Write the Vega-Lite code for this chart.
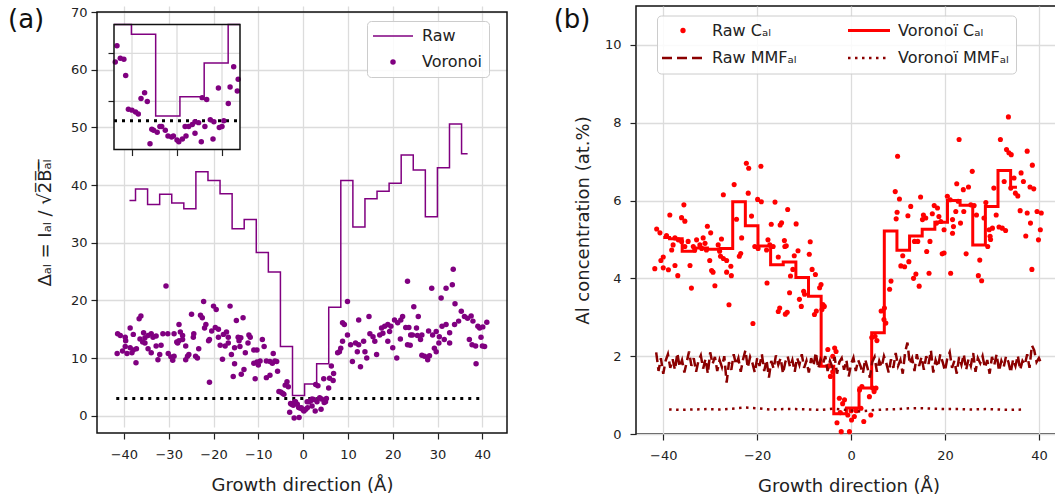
{
  "$schema": "https://vega.github.io/schema/vega-lite/v6.json",
  "padding": {"left": 8, "top": 5, "right": -5, "bottom": 0},
  "spacing": 44,
  "resolve": {"scale": {"color": "independent"}, "legend": {"color": "independent"}},
  "config": {
    "font": "DejaVu Sans",
    "view": {"stroke": "#111111", "strokeWidth": 1.5},
    "axis": {
      "labelFont": "DejaVu Sans", "labelFontSize": 13, "labelColor": "#222222",
      "titleFont": "DejaVu Sans", "titleFontSize": 18, "titleFontWeight": "normal", "titleColor": "#222222",
      "gridColor": "#dcdcdc", "gridWidth": 1.3, "domain": false,
      "tickColor": "#222222", "tickSize": 6, "tickWidth": 1.2
    },
    "axisX": {"labelPadding": 9, "titlePadding": 15},
    "axisY": {"labelPadding": 5, "titlePadding": 16},
    "legend": {"labelFont": "DejaVu Sans", "labelFontSize": 16, "labelColor": "#222222"}
  },
  "datasets": {
    "a_raw": [
      {"x": -38.75, "d": 37.3}, {"x": -36.06, "d": 39.3}, {"x": -33.36, "d": 36.6}, {"x": -30.67, "d": 38.4},
      {"x": -27.97, "d": 36.9}, {"x": -25.28, "d": 35.9}, {"x": -22.58, "d": 42.3}, {"x": -19.89, "d": 40.8},
      {"x": -17.19, "d": 38.5}, {"x": -14.5, "d": 32.4}, {"x": -11.8, "d": 34.0}, {"x": -9.11, "d": 28.3},
      {"x": -6.41, "d": 24.9}, {"x": -3.72, "d": 12.0}, {"x": -1.02, "d": 3.5}, {"x": 1.67, "d": 5.5},
      {"x": 4.37, "d": 9.0}, {"x": 7.06, "d": 18.8}, {"x": 9.76, "d": 40.8}, {"x": 12.45, "d": 32.7},
      {"x": 15.15, "d": 37.6}, {"x": 17.84, "d": 38.9}, {"x": 20.54, "d": 40.3}, {"x": 23.23, "d": 45.2},
      {"x": 25.93, "d": 42.6}, {"x": 28.62, "d": 34.5}, {"x": 31.32, "d": 43.0}, {"x": 34.01, "d": 50.6},
      {"x": 36.71, "d": 45.4}
    ],
    "a_thr": [{"x": -41.7, "d": 3}, {"x": 39.8, "d": 3}],
    "a_vor": [
      {"x": -30.6, "d": 22.5}, {"x": -22.2, "d": 19.8}, {"x": -20.0, "d": 19.0}, {"x": -19.4, "d": 18.4},
      {"x": -16.3, "d": 19.0}, {"x": -24.9, "d": 17.6}, {"x": -22.9, "d": 17.4}, {"x": -22.5, "d": 17.0},
      {"x": -36.2, "d": 17.3}, {"x": -36.6, "d": 16.8}, {"x": -14.9, "d": 16.5}, {"x": -27.7, "d": 15.8},
      {"x": -21.7, "d": 15.8}, {"x": -22.0, "d": 15.2}, {"x": -19.6, "d": 15.3}, {"x": -18.9, "d": 15.0},
      {"x": -20.4, "d": 14.7}, {"x": -38.6, "d": 15.2}, {"x": -41.4, "d": 14.2}, {"x": -40.8, "d": 13.9},
      {"x": -39.7, "d": 13.6}, {"x": -37.9, "d": 14.1}, {"x": -35.6, "d": 14.4}, {"x": -34.6, "d": 13.9},
      {"x": -33.9, "d": 14.2}, {"x": -33.5, "d": 13.6}, {"x": -32.8, "d": 13.8}, {"x": -35.3, "d": 13.5},
      {"x": -31.3, "d": 14.2}, {"x": -30.2, "d": 14.2}, {"x": -28.8, "d": 14.2}, {"x": -27.4, "d": 14.5},
      {"x": -26.9, "d": 13.9}, {"x": -24.4, "d": 14.2}, {"x": -24.5, "d": 13.6}, {"x": -21.1, "d": 13.0},
      {"x": -18.9, "d": 13.6}, {"x": -17.8, "d": 14.1}, {"x": -17.1, "d": 14.5}, {"x": -16.7, "d": 13.6},
      {"x": -14.5, "d": 13.6}, {"x": -14.3, "d": 13.0}, {"x": -39.6, "d": 13.0}, {"x": -36.4, "d": 13.3},
      {"x": -35.8, "d": 12.8}, {"x": -35.3, "d": 12.6}, {"x": -28.2, "d": 12.8}, {"x": -27.7, "d": 13.0},
      {"x": -26.9, "d": 13.2}, {"x": -26.2, "d": 12.1}, {"x": -28.0, "d": 12.6}, {"x": -23.3, "d": 11.6},
      {"x": -20.9, "d": 13.2}, {"x": -18.5, "d": 12.2}, {"x": -17.4, "d": 12.1}, {"x": -16.7, "d": 12.6},
      {"x": -15.3, "d": 11.8}, {"x": -39.7, "d": 12.0}, {"x": -40.3, "d": 11.2}, {"x": -38.6, "d": 11.8},
      {"x": -37.9, "d": 11.4}, {"x": -37.2, "d": 11.6}, {"x": -39.3, "d": 10.8}, {"x": -38.2, "d": 10.9},
      {"x": -41.5, "d": 10.8}, {"x": -34.6, "d": 11.6}, {"x": -33.9, "d": 10.9}, {"x": -32.8, "d": 12.1},
      {"x": -31.7, "d": 12.2}, {"x": -32.0, "d": 10.6}, {"x": -32.4, "d": 9.7}, {"x": -30.1, "d": 10.8},
      {"x": -29.5, "d": 10.2}, {"x": -29.1, "d": 9.6}, {"x": -28.8, "d": 10.3}, {"x": -26.2, "d": 9.7},
      {"x": -25.5, "d": 10.6}, {"x": -24.0, "d": 10.3}, {"x": -23.6, "d": 10.0}, {"x": -25.8, "d": 10.3},
      {"x": -37.3, "d": 9.2}, {"x": -18.0, "d": 9.8}, {"x": -16.0, "d": 10.6}, {"x": -15.3, "d": 9.0},
      {"x": -15.6, "d": 6.8}, {"x": -13.8, "d": 7.2}, {"x": -20.9, "d": 5.8},
      {"x": -13.4, "d": 17.0}, {"x": -12.1, "d": 14.0}, {"x": -11.8, "d": 13.6}, {"x": -12.3, "d": 12.6},
      {"x": -13.9, "d": 13.5}, {"x": -14.1, "d": 12.0}, {"x": -9.1, "d": 13.2}, {"x": -8.7, "d": 12.0},
      {"x": -11.0, "d": 11.4}, {"x": -10.3, "d": 11.4}, {"x": -12.9, "d": 10.9}, {"x": -7.4, "d": 9.4},
      {"x": -8.2, "d": 9.5}, {"x": -9.6, "d": 9.5}, {"x": -10.3, "d": 9.3}, {"x": -11.0, "d": 9.1},
      {"x": -10.0, "d": 8.8}, {"x": -13.2, "d": 8.0}, {"x": -7.4, "d": 7.0}, {"x": -8.2, "d": 6.6},
      {"x": -10.7, "d": 6.4},
      {"x": -6.86, "d": 9.1}, {"x": -6.67, "d": 10.8}, {"x": -6.3, "d": 9.5}, {"x": -5.9, "d": 9.4},
      {"x": -5.7, "d": 7.7}, {"x": -5.4, "d": 4.2}, {"x": -5.0, "d": 4.1}, {"x": -4.6, "d": 3.9},
      {"x": -4.3, "d": 3.7}, {"x": -4.0, "d": 5.3}, {"x": -3.6, "d": 5.9}, {"x": -3.3, "d": 5.0},
      {"x": -3.0, "d": 0.6}, {"x": -2.6, "d": 2.0}, {"x": -2.2, "d": 1.8}, {"x": -2.8, "d": 2.1},
      {"x": -1.7, "d": 2.4}, {"x": -1.3, "d": 2.0}, {"x": -1.0, "d": 1.4}, {"x": -0.6, "d": 1.3},
      {"x": -0.4, "d": 1.4}, {"x": 0.0, "d": 1.0}, {"x": 0.2, "d": 0.8}, {"x": 0.6, "d": 1.1},
      {"x": 1.0, "d": 1.4}, {"x": 0.9, "d": 2.4}, {"x": 1.3, "d": 2.4}, {"x": 1.7, "d": 2.6},
      {"x": 2.0, "d": 1.7}, {"x": 2.0, "d": 2.9}, {"x": 2.7, "d": 0.8}, {"x": 2.8, "d": 5.4},
      {"x": 3.3, "d": 5.2}, {"x": 3.7, "d": 3.1}, {"x": 4.0, "d": 1.1}, {"x": 4.1, "d": 2.9},
      {"x": 4.6, "d": 6.4}, {"x": 4.7, "d": 2.3}, {"x": 5.0, "d": 2.4}, {"x": 5.2, "d": 3.0},
      {"x": 5.7, "d": 4.8}, {"x": 5.9, "d": 6.5}, {"x": 6.3, "d": 8.6}, {"x": 6.7, "d": 6.1},
      {"x": 6.8, "d": 7.3}, {"x": -2.0, "d": -0.4}, {"x": -0.9, "d": -0.3}, {"x": -1.9, "d": 2.4},
      {"x": 2.4, "d": 2.8}, {"x": 3.1, "d": 2.4},
      {"x": 8.1, "d": 11.1}, {"x": 8.4, "d": 11.7}, {"x": 7.7, "d": 10.9}, {"x": 8.8, "d": 12.9},
      {"x": 9.2, "d": 15.8}, {"x": 8.8, "d": 16.1}, {"x": 9.9, "d": 14.0}, {"x": 10.6, "d": 12.3},
      {"x": 9.9, "d": 19.8}, {"x": 12.4, "d": 16.6}, {"x": 11.0, "d": 9.4}, {"x": 12.8, "d": 8.5},
      {"x": 11.7, "d": 12.6}, {"x": 12.4, "d": 12.3}, {"x": 12.1, "d": 11.1},
      {"x": 14.7, "d": 17.2}, {"x": 14.9, "d": 14.2}, {"x": 15.6, "d": 13.7}, {"x": 13.5, "d": 12.9},
      {"x": 16.0, "d": 12.9}, {"x": 13.8, "d": 11.1}, {"x": 14.2, "d": 10.0}, {"x": 16.4, "d": 10.6},
      {"x": 17.5, "d": 15.2}, {"x": 18.2, "d": 15.5}, {"x": 18.9, "d": 15.8}, {"x": 19.6, "d": 15.5},
      {"x": 20.4, "d": 16.6}, {"x": 21.1, "d": 16.1}, {"x": 21.8, "d": 16.6}, {"x": 22.2, "d": 17.2},
      {"x": 17.8, "d": 14.3}, {"x": 17.1, "d": 14.0}, {"x": 19.3, "d": 14.6}, {"x": 18.9, "d": 12.9},
      {"x": 20.0, "d": 11.8}, {"x": 20.9, "d": 10.0}, {"x": 21.7, "d": 13.3}, {"x": 23.3, "d": 23.3},
      {"x": 24.7, "d": 18.9}, {"x": 25.7, "d": 17.2}, {"x": 22.9, "d": 15.3}, {"x": 23.6, "d": 15.3},
      {"x": 24.0, "d": 14.0}, {"x": 25.3, "d": 15.2}, {"x": 24.4, "d": 14.0}, {"x": 25.5, "d": 13.9},
      {"x": 26.2, "d": 13.2}, {"x": 26.5, "d": 14.0}, {"x": 28.0, "d": 14.7}, {"x": 23.3, "d": 12.3},
      {"x": 23.9, "d": 12.2}, {"x": 26.5, "d": 10.5},
      {"x": 33.5, "d": 25.4}, {"x": 33.3, "d": 22.7}, {"x": 31.9, "d": 22.1}, {"x": 30.8, "d": 20.4},
      {"x": 28.7, "d": 22.1}, {"x": 33.9, "d": 19.4}, {"x": 35.3, "d": 18.1}, {"x": 36.0, "d": 17.2},
      {"x": 36.7, "d": 16.9}, {"x": 37.5, "d": 17.3}, {"x": 34.7, "d": 16.4}, {"x": 33.8, "d": 15.8},
      {"x": 37.9, "d": 16.4}, {"x": 39.0, "d": 15.5}, {"x": 39.4, "d": 15.2}, {"x": 40.1, "d": 15.4},
      {"x": 41.0, "d": 16.2}, {"x": 37.1, "d": 13.2}, {"x": 37.7, "d": 12.3}, {"x": 38.5, "d": 12.1},
      {"x": 40.0, "d": 12.1}, {"x": 40.5, "d": 12.0}, {"x": 39.7, "d": 13.6}, {"x": 38.6, "d": 9.0},
      {"x": 31.0, "d": 15.5}, {"x": 31.9, "d": 15.8}, {"x": 32.7, "d": 14.4}, {"x": 30.4, "d": 13.7},
      {"x": 31.5, "d": 13.2}, {"x": 32.7, "d": 12.6}, {"x": 29.7, "d": 14.6}, {"x": 28.9, "d": 14.0},
      {"x": 30.3, "d": 12.6}, {"x": 27.1, "d": 10.3}, {"x": 27.8, "d": 9.7}, {"x": 28.2, "d": 10.4},
      {"x": 29.3, "d": 11.7}, {"x": 29.7, "d": 11.1}
    ],
    "b_raw": [
      {"x": -22.3, "c": 6.96}, {"x": -21.8, "c": 6.83}, {"x": -19.2, "c": 6.88}, {"x": -24.9, "c": 6.41},
      {"x": -27.2, "c": 6.15}, {"x": -21.9, "c": 6.19}, {"x": -19.9, "c": 6.03}, {"x": -19.1, "c": 5.97},
      {"x": -16.2, "c": 5.96}, {"x": -35.6, "c": 5.89}, {"x": -38.6, "c": 5.63}, {"x": -36.1, "c": 5.56},
      {"x": -35.4, "c": 5.47}, {"x": -24.4, "c": 5.52}, {"x": -21.2, "c": 5.6}, {"x": -17.0, "c": 5.39},
      {"x": -14.8, "c": 5.43}, {"x": -41.4, "c": 5.27}, {"x": -40.7, "c": 5.17}, {"x": -39.3, "c": 5.1},
      {"x": -30.6, "c": 5.34}, {"x": -29.9, "c": 5.17}, {"x": -23.3, "c": 5.04}, {"x": -27.6, "c": 5.01},
      {"x": -32.9, "c": 4.99}, {"x": -31.5, "c": 5.04}, {"x": -31.1, "c": 4.9}, {"x": -32.2, "c": 4.86},
      {"x": -33.6, "c": 4.82}, {"x": -33.3, "c": 4.73}, {"x": -31.8, "c": 4.77}, {"x": -30.8, "c": 4.73},
      {"x": -37.5, "c": 5.04}, {"x": -36.8, "c": 4.99}, {"x": -36.1, "c": 4.95}, {"x": -37.9, "c": 4.86},
      {"x": -38.2, "c": 4.73}, {"x": -34.7, "c": 4.95}, {"x": -35.4, "c": 4.82}, {"x": -28.3, "c": 4.86},
      {"x": -28.0, "c": 4.7}, {"x": -20.5, "c": 4.82}, {"x": -19.8, "c": 4.77}, {"x": -17.7, "c": 4.99},
      {"x": -17.3, "c": 4.86}, {"x": -16.6, "c": 4.82}, {"x": -18.0, "c": 4.73}, {"x": -15.5, "c": 4.55},
      {"x": -14.1, "c": 4.82}, {"x": -40.0, "c": 4.55}, {"x": -40.5, "c": 4.46}, {"x": -37.5, "c": 4.33},
      {"x": -41.8, "c": 4.25}, {"x": -40.0, "c": 4.27}, {"x": -38.9, "c": 4.22}, {"x": -36.9, "c": 4.07},
      {"x": -34.3, "c": 4.33}, {"x": -30.1, "c": 4.46}, {"x": -29.7, "c": 4.2}, {"x": -29.4, "c": 4.16},
      {"x": -27.8, "c": 4.57}, {"x": -27.2, "c": 4.51}, {"x": -26.5, "c": 4.46}, {"x": -25.6, "c": 4.31},
      {"x": -26.5, "c": 4.16}, {"x": -25.5, "c": 4.07}, {"x": -34.0, "c": 3.75}, {"x": -29.0, "c": 3.81},
      {"x": -23.8, "c": 4.57}, {"x": -23.5, "c": 4.64}, {"x": -26.0, "c": 3.32}, {"x": -17.9, "c": 3.88},
      {"x": -20.9, "c": 2.84}, {"x": -15.5, "c": 3.15}, {"x": -15.2, "c": 3.24}, {"x": -15.1, "c": 5.37},
      {"x": -13.5, "c": 5.77}, {"x": -14.2, "c": 4.97}, {"x": -13.8, "c": 4.84}, {"x": -11.7, "c": 5.4},
      {"x": -11.3, "c": 4.71}, {"x": -12.1, "c": 4.58}, {"x": -8.7, "c": 4.94}, {"x": -8.9, "c": 4.62},
      {"x": -8.3, "c": 4.23}, {"x": -7.6, "c": 4.1}, {"x": -12.4, "c": 4.23}, {"x": -12.9, "c": 4.06},
      {"x": -6.4, "c": 3.84}, {"x": -6.7, "c": 3.76}, {"x": -13.1, "c": 3.63}, {"x": -11.0, "c": 3.46},
      {"x": -10.6, "c": 3.28}, {"x": -9.9, "c": 3.59}, {"x": -10.1, "c": 3.67}, {"x": -13.6, "c": 3.13},
      {"x": -14.0, "c": 3.08}, {"x": -6.0, "c": 3.33}, {"x": -5.7, "c": 3.28}, {"x": -6.2, "c": 3.2},
      {"x": -7.8, "c": 3.07}, {"x": -7.4, "c": 3.16},
      {"x": -4.95, "c": 2.17}, {"x": -3.5, "c": 2.21}, {"x": -3.2, "c": 2.12}, {"x": -3.9, "c": 2.0},
      {"x": -4.4, "c": 1.48}, {"x": -3.9, "c": 1.6}, {"x": -4.7, "c": 1.75}, {"x": -2.5, "c": 0.92},
      {"x": -1.4, "c": 0.88}, {"x": -1.8, "c": 0.78}, {"x": -2.3, "c": 0.55}, {"x": -0.7, "c": 0.49},
      {"x": -3.0, "c": 0.29}, {"x": -2.1, "c": 0.06}, {"x": -0.35, "c": 0.06}, {"x": 0.1, "c": 0.36},
      {"x": 0.0, "c": 0.6}, {"x": 0.7, "c": 0.45}, {"x": 1.1, "c": 0.6}, {"x": 2.1, "c": 0.66},
      {"x": 2.7, "c": 0.32}, {"x": 4.2, "c": 0.49}, {"x": 1.8, "c": 1.13}, {"x": 2.3, "c": 1.22},
      {"x": 3.9, "c": 0.96}, {"x": 4.6, "c": 1.18}, {"x": 5.3, "c": 1.18}, {"x": 4.9, "c": 1.09},
      {"x": 4.4, "c": 2.48}, {"x": 5.1, "c": 2.51}, {"x": 5.5, "c": 2.4},
      {"x": 6.4, "c": 3.16}, {"x": 7.1, "c": 3.24}, {"x": 7.0, "c": 2.94}, {"x": 7.4, "c": 2.85},
      {"x": 8.2, "c": 3.72}, {"x": 8.5, "c": 3.93}, {"x": 9.6, "c": 5.53}, {"x": 9.8, "c": 5.7},
      {"x": 10.3, "c": 6.04}, {"x": 10.6, "c": 4.32}, {"x": 11.0, "c": 4.58}, {"x": 9.9, "c": 7.14},
      {"x": 9.4, "c": 6.23},
      {"x": 33.5, "c": 8.15}, {"x": 23.0, "c": 7.57}, {"x": 31.8, "c": 7.57}, {"x": 33.1, "c": 7.31},
      {"x": 33.6, "c": 7.23}, {"x": 34.1, "c": 7.18}, {"x": 37.5, "c": 7.27}, {"x": 38.6, "c": 6.91},
      {"x": 25.8, "c": 6.75}, {"x": 22.5, "c": 6.43}, {"x": 23.9, "c": 6.28}, {"x": 25.0, "c": 6.35},
      {"x": 30.4, "c": 6.32}, {"x": 32.6, "c": 6.49}, {"x": 34.7, "c": 6.58}, {"x": 36.2, "c": 6.71},
      {"x": 36.7, "c": 6.49}, {"x": 38.1, "c": 6.35}, {"x": 38.9, "c": 6.3}, {"x": 34.0, "c": 6.32},
      {"x": 35.0, "c": 6.19}, {"x": 35.5, "c": 6.12}, {"x": 14.8, "c": 6.09}, {"x": 12.7, "c": 5.85},
      {"x": 12.1, "c": 5.61}, {"x": 15.4, "c": 5.63}, {"x": 15.9, "c": 5.55}, {"x": 15.2, "c": 5.51},
      {"x": 17.7, "c": 5.87}, {"x": 18.4, "c": 5.81}, {"x": 17.3, "c": 5.66}, {"x": 18.7, "c": 5.59},
      {"x": 19.1, "c": 5.46}, {"x": 18.2, "c": 5.42}, {"x": 20.5, "c": 6.11}, {"x": 21.1, "c": 6.02},
      {"x": 22.8, "c": 5.98}, {"x": 22.3, "c": 5.72}, {"x": 23.3, "c": 5.42}, {"x": 21.6, "c": 5.51},
      {"x": 24.0, "c": 5.72}, {"x": 25.5, "c": 5.89}, {"x": 26.2, "c": 5.87}, {"x": 26.7, "c": 5.63},
      {"x": 28.7, "c": 5.95}, {"x": 28.3, "c": 5.55}, {"x": 30.9, "c": 5.63}, {"x": 29.4, "c": 5.25},
      {"x": 30.1, "c": 5.29}, {"x": 31.5, "c": 5.32}, {"x": 32.2, "c": 5.29}, {"x": 32.9, "c": 5.23},
      {"x": 29.6, "c": 5.08}, {"x": 36.0, "c": 5.74}, {"x": 37.5, "c": 5.68}, {"x": 39.6, "c": 5.72},
      {"x": 40.5, "c": 5.68}, {"x": 38.2, "c": 5.42}, {"x": 40.3, "c": 5.25}, {"x": 37.2, "c": 5.09},
      {"x": 39.9, "c": 4.99}, {"x": 19.8, "c": 5.25}, {"x": 21.6, "c": 5.16}, {"x": 21.8, "c": 5.33},
      {"x": 13.5, "c": 4.95}, {"x": 14.2, "c": 4.95}, {"x": 16.8, "c": 4.95}, {"x": 16.1, "c": 4.69},
      {"x": 19.4, "c": 4.63}, {"x": 24.5, "c": 4.63}, {"x": 27.4, "c": 4.47}, {"x": 29.1, "c": 4.82},
      {"x": 29.7, "c": 5.0}, {"x": 27.1, "c": 4.07}, {"x": 27.8, "c": 3.94}, {"x": 21.2, "c": 4.13},
      {"x": 16.6, "c": 4.13}, {"x": 13.8, "c": 4.11}, {"x": 13.3, "c": 4.0}, {"x": 14.5, "c": 3.8},
      {"x": 11.4, "c": 4.3}, {"x": 12.3, "c": 4.43}, {"x": 38.5, "c": 4.23}, {"x": 19.8, "c": 4.65}
    ],
    "b_vor": [
      {"x": -40.0, "c": 5.05}, {"x": -37.31, "c": 5.02}, {"x": -34.62, "c": 4.7}, {"x": -31.93, "c": 4.78},
      {"x": -29.24, "c": 4.75}, {"x": -26.55, "c": 4.77}, {"x": -23.86, "c": 5.97}, {"x": -21.17, "c": 5.35},
      {"x": -18.48, "c": 4.83}, {"x": -15.79, "c": 4.35}, {"x": -13.1, "c": 4.42}, {"x": -10.41, "c": 4.02},
      {"x": -7.72, "c": 3.54}, {"x": -5.03, "c": 1.74}, {"x": -2.34, "c": 0.52}, {"x": 0.35, "c": 0.67},
      {"x": 3.04, "c": 1.18}, {"x": 5.73, "c": 2.6}, {"x": 8.42, "c": 5.22}, {"x": 11.11, "c": 4.72},
      {"x": 13.8, "c": 5.09}, {"x": 16.49, "c": 5.26}, {"x": 19.18, "c": 5.44}, {"x": 21.87, "c": 6.0},
      {"x": 24.56, "c": 5.88}, {"x": 27.25, "c": 4.86}, {"x": 29.94, "c": 5.85}, {"x": 32.63, "c": 6.77},
      {"x": 35.32, "c": 6.34}
    ],
    "b_mmf_vor": [
      {"x": -38.75, "m": 0.63}, {"x": -36.06, "m": 0.62}, {"x": -33.36, "m": 0.63}, {"x": -30.67, "m": 0.64},
      {"x": -27.97, "m": 0.63}, {"x": -25.28, "m": 0.65}, {"x": -22.58, "m": 0.68}, {"x": -19.89, "m": 0.66},
      {"x": -17.19, "m": 0.63}, {"x": -14.5, "m": 0.64}, {"x": -11.8, "m": 0.64}, {"x": -9.11, "m": 0.63},
      {"x": -6.41, "m": 0.62}, {"x": -3.72, "m": 0.65}, {"x": -1.02, "m": 0.62}, {"x": 1.67, "m": 0.58},
      {"x": 4.37, "m": 0.61}, {"x": 7.06, "m": 0.63}, {"x": 9.76, "m": 0.64}, {"x": 12.45, "m": 0.66},
      {"x": 15.15, "m": 0.66}, {"x": 17.84, "m": 0.65}, {"x": 20.54, "m": 0.64}, {"x": 23.23, "m": 0.64},
      {"x": 25.93, "m": 0.63}, {"x": 28.62, "m": 0.64}, {"x": 31.32, "m": 0.63}, {"x": 34.01, "m": 0.62},
      {"x": 36.71, "m": 0.63}
    ],
    "b_mmf_raw": [
      {"x": -41.5, "m": 2.1}, {"x": -41.0, "m": 1.62}, {"x": -40.5, "m": 1.95}, {"x": -40.0, "m": 1.55},
      {"x": -39.5, "m": 1.88}, {"x": -39.0, "m": 2.05}, {"x": -38.5, "m": 1.7}, {"x": -38.0, "m": 1.92},
      {"x": -37.5, "m": 1.65}, {"x": -37.0, "m": 2.08}, {"x": -36.5, "m": 1.72}, {"x": -36.0, "m": 1.9},
      {"x": -35.5, "m": 1.58}, {"x": -35.0, "m": 1.85}, {"x": -34.5, "m": 2.12}, {"x": -34.0, "m": 1.75},
      {"x": -33.5, "m": 1.95}, {"x": -33.0, "m": 1.6}, {"x": -32.5, "m": 1.88}, {"x": -32.0, "m": 2.02},
      {"x": -31.5, "m": 1.68}, {"x": -31.0, "m": 1.93}, {"x": -30.5, "m": 1.55}, {"x": -30.0, "m": 2.1},
      {"x": -29.5, "m": 1.8}, {"x": -29.0, "m": 1.98}, {"x": -28.5, "m": 1.62}, {"x": -28.0, "m": 1.9},
      {"x": -27.5, "m": 1.72}, {"x": -27.0, "m": 2.0}, {"x": -26.5, "m": 1.32}, {"x": -26.0, "m": 1.85},
      {"x": -25.5, "m": 1.65}, {"x": -25.0, "m": 2.05}, {"x": -24.5, "m": 1.78}, {"x": -24.0, "m": 1.95},
      {"x": -23.5, "m": 1.6}, {"x": -23.0, "m": 1.92}, {"x": -22.5, "m": 2.15}, {"x": -22.0, "m": 1.7},
      {"x": -21.5, "m": 1.98}, {"x": -21.0, "m": 1.82}, {"x": -20.5, "m": 1.58}, {"x": -20.0, "m": 1.95},
      {"x": -19.5, "m": 1.75}, {"x": -19.0, "m": 2.05}, {"x": -18.5, "m": 1.62}, {"x": -18.0, "m": 1.9},
      {"x": -17.5, "m": 1.45}, {"x": -17.0, "m": 1.88}, {"x": -16.5, "m": 1.68}, {"x": -16.0, "m": 2.02},
      {"x": -15.5, "m": 1.78}, {"x": -15.0, "m": 1.95}, {"x": -14.5, "m": 1.55}, {"x": -14.0, "m": 1.85},
      {"x": -13.5, "m": 2.0}, {"x": -13.0, "m": 1.72}, {"x": -12.5, "m": 1.9}, {"x": -12.0, "m": 1.6},
      {"x": -11.5, "m": 1.96}, {"x": -11.0, "m": 1.78}, {"x": -10.5, "m": 2.05}, {"x": -10.0, "m": 1.7},
      {"x": -9.5, "m": 1.88}, {"x": -9.0, "m": 1.58}, {"x": -8.5, "m": 1.95}, {"x": -8.0, "m": 1.75},
      {"x": -7.5, "m": 2.1}, {"x": -7.0, "m": 1.68}, {"x": -6.5, "m": 1.92}, {"x": -6.0, "m": 1.8},
      {"x": -5.5, "m": 2.0}, {"x": -5.0, "m": 1.62}, {"x": -4.5, "m": 1.88}, {"x": -4.0, "m": 1.72},
      {"x": -3.5, "m": 1.98}, {"x": -3.0, "m": 1.55}, {"x": -2.5, "m": 1.85}, {"x": -2.0, "m": 1.95},
      {"x": -1.5, "m": 1.65}, {"x": -1.0, "m": 1.9}, {"x": -0.5, "m": 1.48}, {"x": 0.0, "m": 1.8},
      {"x": 0.5, "m": 1.96}, {"x": 1.0, "m": 1.62}, {"x": 1.5, "m": 1.9}, {"x": 2.0, "m": 1.75},
      {"x": 2.5, "m": 1.55}, {"x": 3.0, "m": 1.92}, {"x": 3.5, "m": 1.7}, {"x": 4.0, "m": 1.45},
      {"x": 4.5, "m": 1.85}, {"x": 5.0, "m": 1.98}, {"x": 5.5, "m": 1.6}, {"x": 6.0, "m": 1.88},
      {"x": 6.5, "m": 1.72}, {"x": 7.0, "m": 2.0}, {"x": 7.5, "m": 1.82}, {"x": 8.0, "m": 1.58},
      {"x": 8.5, "m": 1.92}, {"x": 9.0, "m": 1.7}, {"x": 9.5, "m": 2.08}, {"x": 10.0, "m": 1.75},
      {"x": 10.5, "m": 1.9}, {"x": 11.0, "m": 1.55}, {"x": 11.5, "m": 2.1}, {"x": 12.0, "m": 2.35},
      {"x": 12.5, "m": 1.8}, {"x": 13.0, "m": 1.95}, {"x": 13.5, "m": 1.62}, {"x": 14.0, "m": 2.05},
      {"x": 14.5, "m": 1.75}, {"x": 15.0, "m": 1.98}, {"x": 15.5, "m": 1.65}, {"x": 16.0, "m": 2.0},
      {"x": 16.5, "m": 1.8}, {"x": 17.0, "m": 2.15}, {"x": 17.5, "m": 1.58}, {"x": 18.0, "m": 1.9},
      {"x": 18.5, "m": 1.72}, {"x": 19.0, "m": 2.05}, {"x": 19.5, "m": 1.85}, {"x": 20.0, "m": 1.62},
      {"x": 20.5, "m": 1.95}, {"x": 21.0, "m": 2.1}, {"x": 21.5, "m": 1.7}, {"x": 22.0, "m": 1.88},
      {"x": 22.5, "m": 1.55}, {"x": 23.0, "m": 1.98}, {"x": 23.5, "m": 1.78}, {"x": 24.0, "m": 2.05},
      {"x": 24.5, "m": 1.65}, {"x": 25.0, "m": 1.92}, {"x": 25.5, "m": 1.75}, {"x": 26.0, "m": 2.08},
      {"x": 26.5, "m": 1.6}, {"x": 27.0, "m": 1.95}, {"x": 27.5, "m": 1.82}, {"x": 28.0, "m": 2.0},
      {"x": 28.5, "m": 1.7}, {"x": 29.0, "m": 1.9}, {"x": 29.5, "m": 1.55}, {"x": 30.0, "m": 1.98},
      {"x": 30.5, "m": 1.78}, {"x": 31.0, "m": 2.05}, {"x": 31.5, "m": 1.62}, {"x": 32.0, "m": 1.88},
      {"x": 32.5, "m": 1.72}, {"x": 33.0, "m": 2.0}, {"x": 33.5, "m": 1.85}, {"x": 34.0, "m": 1.58},
      {"x": 34.5, "m": 1.92}, {"x": 35.0, "m": 1.75}, {"x": 35.5, "m": 2.02}, {"x": 36.0, "m": 1.65},
      {"x": 36.5, "m": 1.88}, {"x": 37.0, "m": 1.78}, {"x": 37.5, "m": 2.05}, {"x": 38.0, "m": 1.7},
      {"x": 38.5, "m": 2.28}, {"x": 39.0, "m": 2.15}, {"x": 39.5, "m": 1.85}, {"x": 40.0, "m": 1.95},
      {"x": 40.5, "m": 1.8}
    ]
  },
  "hconcat": [
    {
      "width": 410,
      "height": 427,
      "view": {"stroke": null},
      "title": {"text": "(a)", "anchor": "start", "frame": "group", "orient": "none", "baseline": "alphabetic", "fontSize": 26, "fontWeight": "normal", "font": "DejaVu Sans", "color": "#111111", "dx": -89, "dy": 22},
      "layer": [
        {
          "layer": [
            {
              "data": {"name": "a_raw"},
              "mark": {"type": "line", "interpolate": "step", "strokeWidth": 1.5},
              "encoding": {
                "x": {"field": "x", "type": "quantitative",
                  "scale": {"domain": [-46, 45.5], "nice": false, "zero": false},
                  "axis": {"values": [-40, -30, -20, -10, 0, 10, 20, 30, 40], "title": "Growth direction (Å)", "grid": true}},
                "y": {"field": "d", "type": "quantitative",
                  "scale": {"domain": [-3, 70], "range": [427, 6], "nice": false, "zero": false},
                  "axis": {"values": [0, 10, 20, 30, 40, 50, 60, 70], "grid": true, "labelPadding": 4,
                    "title": "\u0394\u2090\u2097 = I\u2090\u2097 / \u221a2\u0305B\u0305\u2090\u0305\u2097\u0305"}},
                "color": {"datum": "Raw", "type": "nominal",
                  "scale": {"domain": ["Raw", "Voronoi"], "range": ["#800080", "#800080"]},
                  "legend": {
                    "title": null, "orient": "none", "legendX": 270, "legendY": 15,
                    "symbolSize": 36, "symbolOffset": 11, "labelOffset": 21, "padding": 7, "rowPadding": 10,
                    "fillColor": "rgba(255,255,255,0.85)", "strokeColor": "#cccccc", "cornerRadius": 4,
                    "encode": {"symbols": {"update": {
                      "shape": {"signal": "datum.index === 0 ? 'stroke' : 'circle'"},
                      "size": {"signal": "datum.index === 0 ? 1600 : 30"},
                      "strokeWidth": {"signal": "datum.index === 0 ? 1.5 : 0"},
                      "stroke": {"value": "#800080"},
                      "fill": {"value": "#800080"},
                      "opacity": {"value": 1}
                    }}}
                  }}
              }
            },
            {
              "data": {"name": "a_thr"},
              "mark": {"type": "line", "color": "#000000", "strokeWidth": 3, "strokeDash": [3, 5], "strokeCap": "butt"},
              "encoding": {
                "x": {"field": "x", "type": "quantitative"},
                "y": {"field": "d", "type": "quantitative"}
              }
            },
            {
              "data": {"name": "a_vor"},
              "mark": {"type": "circle", "size": 30, "opacity": 1},
              "encoding": {
                "x": {"field": "x", "type": "quantitative"},
                "y": {"field": "d", "type": "quantitative"},
                "color": {"datum": "Voronoi", "type": "nominal",
                  "legend": {
                    "title": null, "orient": "none", "legendX": 270, "legendY": 15,
                    "symbolSize": 36, "symbolOffset": 11, "labelOffset": 21, "padding": 7, "rowPadding": 10,
                    "fillColor": "rgba(255,255,255,0.85)", "strokeColor": "#cccccc", "cornerRadius": 4,
                    "encode": {"symbols": {"update": {
                      "shape": {"signal": "datum.index === 0 ? 'stroke' : 'circle'"},
                      "size": {"signal": "datum.index === 0 ? 1600 : 30"},
                      "strokeWidth": {"signal": "datum.index === 0 ? 1.5 : 0"},
                      "stroke": {"value": "#800080"},
                      "fill": {"value": "#800080"},
                      "opacity": {"value": 1}
                    }}}
                  }}
              }
            },
            {
              "data": {"values": [{}]},
              "mark": {"type": "rect", "fill": null, "fillOpacity": 0, "stroke": "#111111", "strokeWidth": 1.5},
              "encoding": {
                "x": {"datum": -46, "type": "quantitative"},
                "x2": {"datum": 45.5},
                "y": {"datum": -3, "type": "quantitative"},
                "y2": {"datum": 70}
              }
            }
          ]
        },
        {
          "layer": [
            {
              "data": {"values": [{}]},
              "mark": {"type": "rect", "fill": "#ffffff"},
              "encoding": {
                "x": {"datum": -7, "type": "quantitative",
                  "scale": {"domain": [-7, 7], "range": [17, 143], "nice": false, "zero": false, "clamp": true},
                  "axis": {"orient": "bottom", "offset": -283.45, "values": [-5, 0, 5], "labels": false, "grid": false, "domain": false, "title": null, "tickSize": 6}},
                "x2": {"datum": 7},
                "y": {"datum": 0, "type": "quantitative",
                  "scale": {"domain": [0, 13], "range": [143.55, 18.55], "nice": false, "zero": false, "clamp": true},
                  "axis": {"orient": "left", "offset": -17, "values": [5, 10], "labels": false, "grid": false, "domain": false, "title": null, "tickSize": 6}},
                "y2": {"datum": 13}
              }
            },
            {"data": {"values": [{}]}, "mark": {"type": "rule", "color": "#dcdcdc", "strokeWidth": 1.3},
             "encoding": {"x": {"datum": -5, "type": "quantitative"}, "y": {"datum": 0, "type": "quantitative"}, "y2": {"datum": 13}}},
            {"data": {"values": [{}]}, "mark": {"type": "rule", "color": "#dcdcdc", "strokeWidth": 1.3},
             "encoding": {"x": {"datum": 0, "type": "quantitative"}, "y": {"datum": 0, "type": "quantitative"}, "y2": {"datum": 13}}},
            {"data": {"values": [{}]}, "mark": {"type": "rule", "color": "#dcdcdc", "strokeWidth": 1.3},
             "encoding": {"x": {"datum": 5, "type": "quantitative"}, "y": {"datum": 0, "type": "quantitative"}, "y2": {"datum": 13}}},
            {"data": {"values": [{}]}, "mark": {"type": "rule", "color": "#dcdcdc", "strokeWidth": 1.3},
             "encoding": {"y": {"datum": 5, "type": "quantitative"}, "x": {"datum": -7, "type": "quantitative"}, "x2": {"datum": 7}}},
            {"data": {"values": [{}]}, "mark": {"type": "rule", "color": "#dcdcdc", "strokeWidth": 1.3},
             "encoding": {"y": {"datum": 10, "type": "quantitative"}, "x": {"datum": -7, "type": "quantitative"}, "x2": {"datum": 7}}},
            {
              "data": {"name": "a_raw"},
              "transform": [{"filter": "datum.x > -12 && datum.x < 12"}],
              "mark": {"type": "line", "interpolate": "step", "color": "#800080", "strokeWidth": 1.5},
              "encoding": {
                "x": {"field": "x", "type": "quantitative"},
                "y": {"field": "d", "type": "quantitative"}
              }
            },
            {
              "data": {"name": "a_thr"},
              "mark": {"type": "line", "color": "#000000", "strokeWidth": 3, "strokeDash": [3, 5], "strokeCap": "butt"},
              "encoding": {
                "x": {"field": "x", "type": "quantitative"},
                "y": {"field": "d", "type": "quantitative"}
              }
            },
            {
              "data": {"name": "a_vor"},
              "transform": [{"filter": "datum.x > -7 && datum.x < 7 && datum.d > 0 && datum.d < 13"}],
              "mark": {"type": "circle", "size": 30, "opacity": 1, "color": "#800080"},
              "encoding": {
                "x": {"field": "x", "type": "quantitative"},
                "y": {"field": "d", "type": "quantitative"}
              }
            },
            {
              "data": {"values": [{}]},
              "mark": {"type": "rect", "fill": null, "fillOpacity": 0, "stroke": "#111111", "strokeWidth": 1.5},
              "encoding": {
                "x": {"datum": -7, "type": "quantitative"},
                "x2": {"datum": 7},
                "y": {"datum": 0, "type": "quantitative"},
                "y2": {"datum": 13}
              }
            }
          ]
        }
      ],
      "resolve": {"scale": {"x": "independent", "y": "independent"}}
    },
    {
      "width": 425,
      "height": 428,
      "title": {"text": "(b)", "anchor": "start", "frame": "group", "orient": "none", "baseline": "alphabetic", "fontSize": 26, "fontWeight": "normal", "font": "DejaVu Sans", "color": "#111111", "dx": -82.3, "dy": 22},
      "layer": [
        {
          "data": {"name": "b_raw"},
          "mark": {"type": "circle", "size": 26, "opacity": 1},
          "encoding": {
            "x": {"field": "x", "type": "quantitative",
              "scale": {"domain": [-45.8, 44.7], "nice": false, "zero": false},
              "axis": {"values": [-40, -20, 0, 20, 40], "title": "Growth direction (Å)", "grid": true}},
            "y": {"field": "c", "type": "quantitative",
              "scale": {"domain": [0, 11], "nice": false, "zero": false},
              "axis": {"values": [0, 2, 4, 6, 8, 10], "title": "Al concentration (at.%)", "grid": true, "labelPadding": 9, "titlePadding": 12}},
            "color": {"datum": "Raw C\u2090\u2097", "type": "nominal",
              "scale": {"domain": ["Raw C\u2090\u2097", "Raw MMF\u2090\u2097", "Vorono\u00ef C\u2090\u2097", "Vorono\u00ef MMF\u2090\u2097"],
                        "range": ["#ff0000", "#8b0000", "#ff0000", "#8b0000"]},
              "legend": {
                "title": null, "orient": "none", "legendX": 21, "legendY": 9.5, "columns": 2,
                "columnPadding": 45, "rowPadding": 11.5, "padding": 7,
                "symbolSize": 36, "symbolOffset": 11, "labelOffset": 21,
                "fillColor": "rgba(255,255,255,0.85)", "strokeColor": "#cccccc", "cornerRadius": 4,
                "encode": {"symbols": {"update": {
                  "shape": {"signal": "datum.index === 0 ? 'circle' : 'stroke'"},
                  "size": {"signal": "datum.index === 0 ? 28 : 1764"},
                  "fill": {"signal": "datum.index === 0 ? '#ff0000' : 'transparent'"},
                  "stroke": {"signal": "datum.index === 0 ? 'transparent' : (datum.index === 2 ? '#ff0000' : '#8b0000')"},
                  "strokeWidth": {"signal": "datum.index === 0 ? 0 : (datum.index === 2 ? 3 : 2.5)"},
                  "strokeDash": {"signal": "datum.index === 1 ? [10, 5] : (datum.index === 3 ? [2.5, 4.5] : [])"},
                  "opacity": {"value": 1}
                }}}
              }}
          }
        },
        {
          "data": {"name": "b_vor"},
          "mark": {"type": "line", "interpolate": "step", "strokeWidth": 3},
          "encoding": {
            "x": {"field": "x", "type": "quantitative"},
            "y": {"field": "c", "type": "quantitative"},
            "color": {"datum": "Vorono\u00ef C\u2090\u2097", "type": "nominal",
              "legend": {
                "title": null, "orient": "none", "legendX": 21, "legendY": 9.5, "columns": 2,
                "columnPadding": 45, "rowPadding": 11.5, "padding": 7,
                "symbolSize": 36, "symbolOffset": 11, "labelOffset": 21,
                "fillColor": "rgba(255,255,255,0.85)", "strokeColor": "#cccccc", "cornerRadius": 4,
                "encode": {"symbols": {"update": {
                  "shape": {"signal": "datum.index === 0 ? 'circle' : 'stroke'"},
                  "size": {"signal": "datum.index === 0 ? 28 : 1764"},
                  "fill": {"signal": "datum.index === 0 ? '#ff0000' : 'transparent'"},
                  "stroke": {"signal": "datum.index === 0 ? 'transparent' : (datum.index === 2 ? '#ff0000' : '#8b0000')"},
                  "strokeWidth": {"signal": "datum.index === 0 ? 0 : (datum.index === 2 ? 3 : 2.5)"},
                  "strokeDash": {"signal": "datum.index === 1 ? [10, 5] : (datum.index === 3 ? [2.5, 4.5] : [])"},
                  "opacity": {"value": 1}
                }}}
              }}
          }
        },
        {
          "data": {"name": "b_mmf_raw"},
          "mark": {"type": "line", "strokeWidth": 2.5, "strokeDash": [10, 5], "strokeCap": "butt"},
          "encoding": {
            "x": {"field": "x", "type": "quantitative"},
            "y": {"field": "m", "type": "quantitative"},
            "color": {"datum": "Raw MMF\u2090\u2097", "type": "nominal",
              "legend": {
                "title": null, "orient": "none", "legendX": 21, "legendY": 9.5, "columns": 2,
                "columnPadding": 45, "rowPadding": 11.5, "padding": 7,
                "symbolSize": 36, "symbolOffset": 11, "labelOffset": 21,
                "fillColor": "rgba(255,255,255,0.85)", "strokeColor": "#cccccc", "cornerRadius": 4,
                "encode": {"symbols": {"update": {
                  "shape": {"signal": "datum.index === 0 ? 'circle' : 'stroke'"},
                  "size": {"signal": "datum.index === 0 ? 28 : 1764"},
                  "fill": {"signal": "datum.index === 0 ? '#ff0000' : 'transparent'"},
                  "stroke": {"signal": "datum.index === 0 ? 'transparent' : (datum.index === 2 ? '#ff0000' : '#8b0000')"},
                  "strokeWidth": {"signal": "datum.index === 0 ? 0 : (datum.index === 2 ? 3 : 2.5)"},
                  "strokeDash": {"signal": "datum.index === 1 ? [10, 5] : (datum.index === 3 ? [2.5, 4.5] : [])"},
                  "opacity": {"value": 1}
                }}}
              }}
          }
        },
        {
          "data": {"name": "b_mmf_vor"},
          "mark": {"type": "line", "strokeWidth": 2.5, "strokeDash": [2.5, 4.5], "strokeCap": "butt"},
          "encoding": {
            "x": {"field": "x", "type": "quantitative"},
            "y": {"field": "m", "type": "quantitative"},
            "color": {"datum": "Vorono\u00ef MMF\u2090\u2097", "type": "nominal",
              "legend": {
                "title": null, "orient": "none", "legendX": 21, "legendY": 9.5, "columns": 2,
                "columnPadding": 45, "rowPadding": 11.5, "padding": 7,
                "symbolSize": 36, "symbolOffset": 11, "labelOffset": 21,
                "fillColor": "rgba(255,255,255,0.85)", "strokeColor": "#cccccc", "cornerRadius": 4,
                "encode": {"symbols": {"update": {
                  "shape": {"signal": "datum.index === 0 ? 'circle' : 'stroke'"},
                  "size": {"signal": "datum.index === 0 ? 28 : 1764"},
                  "fill": {"signal": "datum.index === 0 ? '#ff0000' : 'transparent'"},
                  "stroke": {"signal": "datum.index === 0 ? 'transparent' : (datum.index === 2 ? '#ff0000' : '#8b0000')"},
                  "strokeWidth": {"signal": "datum.index === 0 ? 0 : (datum.index === 2 ? 3 : 2.5)"},
                  "strokeDash": {"signal": "datum.index === 1 ? [10, 5] : (datum.index === 3 ? [2.5, 4.5] : [])"},
                  "opacity": {"value": 1}
                }}}
              }}
          }
        }
      ]
    }
  ]
}
